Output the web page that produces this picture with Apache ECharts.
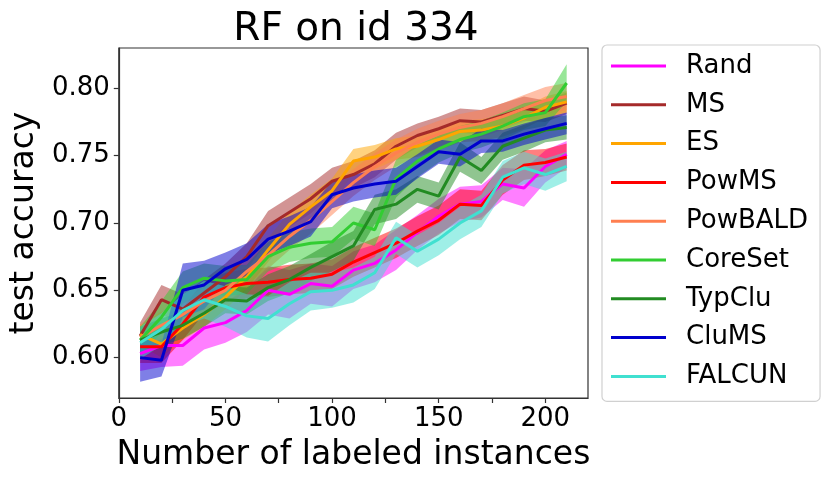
<!DOCTYPE html>
<html>
<head>
<meta charset="utf-8">
<script src="https://cdn.jsdelivr.net/npm/echarts@6/dist/echarts.min.js"></script>
<style>
html,body{margin:0;padding:0;background:#fff;}
#chart{width:831px;height:482px;}
</style>
</head>
<body>
<div id="chart"></div>
<script>
const xs = [10,20,30,40,50,60,70,80,90,100,110,120,130,140,150,160,170,180,190,200,210];
const xTicks = [0,25,50,75,100,125,150,175,200];
const xLabels = [0,50,100,150,200];
const yTicks = [0.60,0.65,0.70,0.75,0.80];

const names = ['Rand','MS','ES','PowMS','PowBALD','CoreSet','TypClu','CluMS','FALCUN'];
const colors = ['#ff00ff','#a52a2a','#ffa500','#ff0000','#ff7f50','#32cd32','#228b22','#0000cd','#40e0d0'];

const rand    = [0.603,0.609,0.609,0.622,0.626,0.635,0.650,0.647,0.655,0.653,0.665,0.670,0.680,0.693,0.705,0.714,0.716,0.729,0.726,0.742,0.751];
const ms      = [0.616,0.643,0.636,0.648,0.660,0.675,0.698,0.708,0.718,0.731,0.736,0.744,0.757,0.765,0.770,0.776,0.775,0.780,0.785,0.783,0.789];
const es      = [0.617,0.610,0.622,0.632,0.645,0.660,0.680,0.699,0.712,0.724,0.746,0.749,0.755,0.757,0.762,0.768,0.769,0.772,0.778,0.786,0.790];
const powms   = [0.608,0.608,0.625,0.645,0.652,0.655,0.656,0.658,0.659,0.662,0.671,0.678,0.685,0.694,0.702,0.714,0.713,0.732,0.743,0.745,0.749];
const powbald = [0.615,0.624,0.632,0.642,0.650,0.664,0.676,0.690,0.702,0.716,0.730,0.742,0.752,0.760,0.766,0.771,0.774,0.779,0.785,0.791,0.794];
const coreset = [0.613,0.630,0.652,0.659,0.657,0.658,0.675,0.682,0.685,0.686,0.700,0.695,0.733,0.746,0.755,0.762,0.766,0.772,0.779,0.782,0.804];
const typclu  = [0.613,0.619,0.624,0.633,0.643,0.642,0.652,0.658,0.667,0.675,0.683,0.710,0.714,0.725,0.720,0.749,0.739,0.757,0.763,0.769,0.771];
const clums   = [0.600,0.598,0.650,0.654,0.666,0.673,0.688,0.694,0.701,0.721,0.726,0.729,0.731,0.742,0.753,0.751,0.761,0.761,0.766,0.770,0.774];
const falcun  = [0.611,0.621,0.635,0.643,0.638,0.631,0.629,0.640,0.649,0.650,0.654,0.663,0.689,0.679,0.688,0.700,0.709,0.734,0.741,0.736,0.742];

const randStd    = [0.013,0.016,0.015,0.016,0.015,0.016,0.018,0.018,0.015,0.015,0.014,0.014,0.015,0.013,0.013,0.013,0.012,0.012,0.014,0.012,0.010];
const msStd      = [0.010,0.011,0.011,0.010,0.010,0.010,0.011,0.011,0.011,0.010,0.010,0.010,0.010,0.009,0.009,0.009,0.009,0.009,0.009,0.008,0.008];
const esStd      = [0.008,0.010,0.009,0.009,0.009,0.009,0.009,0.009,0.009,0.009,0.009,0.009,0.008,0.008,0.008,0.008,0.008,0.008,0.008,0.008,0.008];
const powmsStd   = [0.012,0.012,0.012,0.012,0.011,0.011,0.011,0.011,0.011,0.011,0.011,0.011,0.011,0.011,0.011,0.011,0.011,0.011,0.011,0.010,0.010];
const powbaldStd = [0.010,0.010,0.010,0.010,0.010,0.010,0.010,0.010,0.010,0.010,0.010,0.010,0.010,0.010,0.010,0.010,0.010,0.010,0.010,0.010,0.010];
const coresetStd = [0.010,0.012,0.012,0.011,0.011,0.011,0.011,0.011,0.011,0.011,0.012,0.012,0.014,0.012,0.010,0.010,0.010,0.010,0.010,0.010,0.014];
const typcluStd  = [0.010,0.010,0.010,0.010,0.010,0.010,0.010,0.010,0.010,0.011,0.011,0.011,0.011,0.010,0.010,0.011,0.010,0.010,0.010,0.009,0.009];
const clumsStd   = [0.018,0.012,0.020,0.018,0.012,0.012,0.011,0.011,0.011,0.010,0.010,0.010,0.010,0.009,0.009,0.009,0.009,0.008,0.008,0.008,0.008];
const falcunStd  = [0.012,0.012,0.012,0.014,0.015,0.016,0.017,0.016,0.014,0.013,0.013,0.012,0.012,0.012,0.012,0.012,0.012,0.012,0.012,0.012,0.011];

const means = [rand,ms,es,powms,powbald,coreset,typclu,clums,falcun];
const stds  = [randStd,msStd,esStd,powmsStd,powbaldStd,coresetStd,typcluStd,clumsStd,falcunStd];

const FONT = 'DejaVu Sans';
const series = [];
names.forEach((name, k) => {
  const m = means[k], s = stds[k], c = colors[k];
  series.push({
    type: 'line', name: name,
    data: xs.map((x, i) => [x, m[i]]),
    symbol: 'none', showSymbol: false,
    lineStyle: { color: c, width: 3 },
    itemStyle: { color: c },
    z: 2
  });
  series.push({
    type: 'custom', name: name + ' band', silent: true,
    data: xs.map((x, i) => [x, m[i] - s[i], m[i] + s[i]]),
    encode: { x: 0, y: [1, 2] },
    renderItem: function (params, api) {
      if (params.dataIndex !== 0) return;
      const pts = [];
      for (let i = 0; i < xs.length; i++) pts.push(api.coord([xs[i], m[i] + s[i]]));
      for (let i = xs.length - 1; i >= 0; i--) pts.push(api.coord([xs[i], m[i] - s[i]]));
      return { type: 'polygon', shape: { points: pts }, style: { fill: c, opacity: 0.5 } };
    },
    z: 2
  });
});

const chart = echarts.init(document.getElementById('chart'), null, { renderer: 'canvas' });
chart.setOption({
  animation: false,
  backgroundColor: '#fff',
  title: {
    text: 'RF on id 334', left: 351, top: 5, textAlign: 'center',
    textStyle: { fontFamily: FONT, fontSize: 39, fontWeight: 'normal', color: '#000' }
  },
  grid: { left: 115, right: 243, top: 48, bottom: 84, show: true, borderColor: '#333', borderWidth: 1.2, backgroundColor: 'transparent' },
  legend: {
    data: names, orient: 'vertical', left: 602, top: 45,
    icon: 'rect', itemWidth: 55, itemHeight: 3, itemGap: 8.8,
    padding: [6, 12, 10, 9],
    backgroundColor: '#fff', borderColor: '#d0d0d0', borderWidth: 1.2, borderRadius: 5,
    textStyle: { fontFamily: FONT, fontSize: 26, color: '#000', lineHeight: 30, padding: [0, 0, 0, 15] }
  },
  xAxis: {
    type: 'value', min: 0, max: 220,
    name: 'Number of labeled instances', nameLocation: 'middle', nameGap: 41,
    nameTextStyle: { fontFamily: FONT, fontSize: 33, color: '#000' },
    axisLine: { show: true, lineStyle: { color: '#333', width: 1.2 } },
    axisTick: { show: true, length: 5, customValues: xTicks, lineStyle: { color: '#333', width: 1.2 } },
    axisLabel: { customValues: xLabels, fontFamily: FONT, fontSize: 26, color: '#000', margin: 8 },
    splitLine: { show: false }
  },
  yAxis: {
    type: 'value', min: 0.570, max: 0.830,
    name: 'test accuracy', nameLocation: 'middle', nameGap: 72,
    nameTextStyle: { fontFamily: FONT, fontSize: 33, color: '#000' },
    axisLine: { show: true, lineStyle: { color: '#333', width: 1.2 } },
    axisTick: { show: true, length: 5, customValues: yTicks, lineStyle: { color: '#333', width: 1.2 } },
    axisLabel: { customValues: yTicks, fontFamily: FONT, fontSize: 26, color: '#000', margin: 9,
      formatter: v => v.toFixed(2) },
    splitLine: { show: false }
  },
  series: series
});
</script>
</body>
</html>
